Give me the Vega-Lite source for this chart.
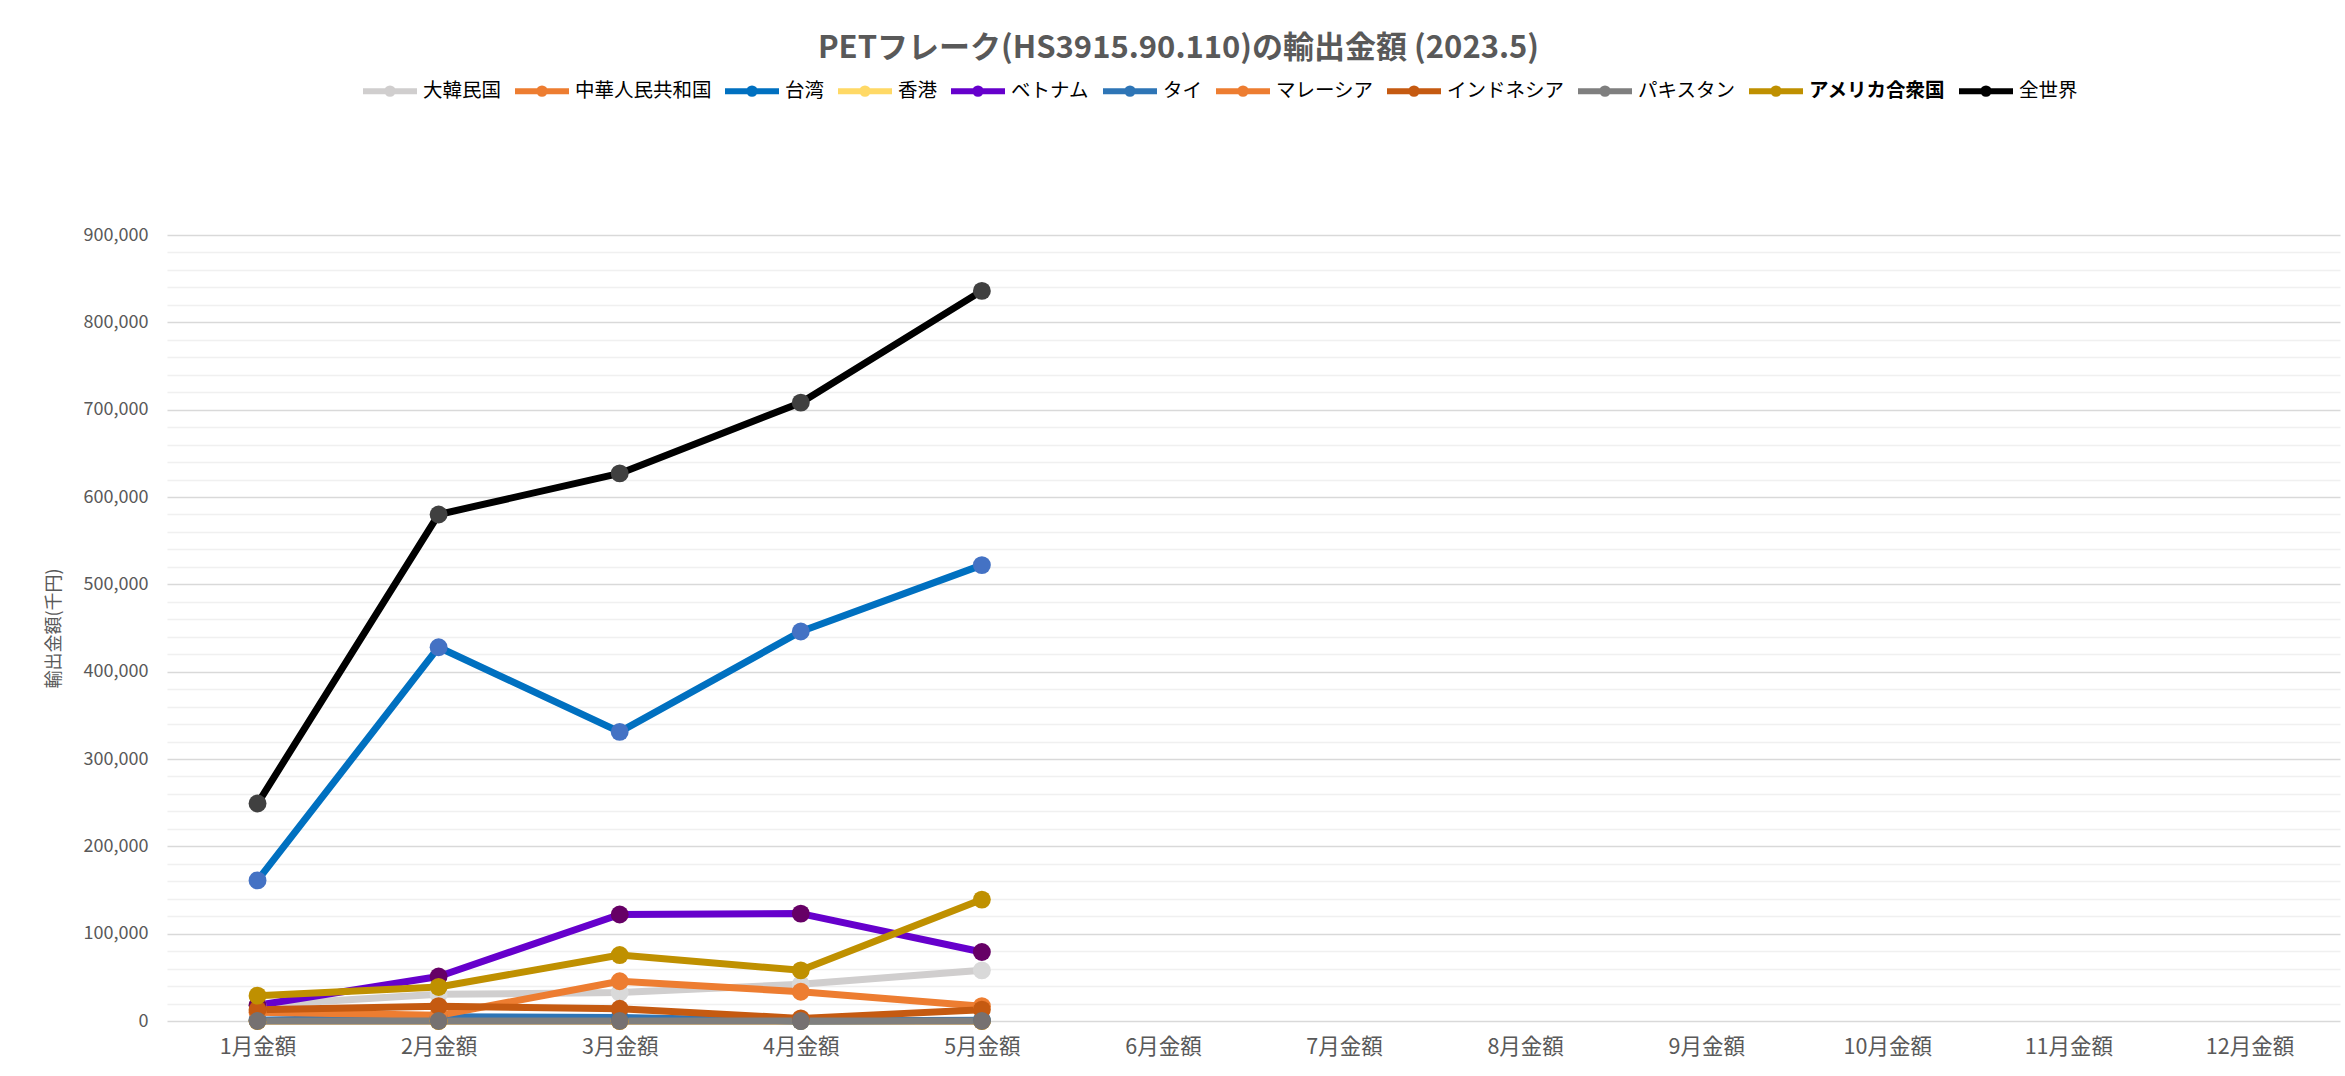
{
  "$schema": "https://vega.github.io/schema/vega-lite/v6.json",
  "width": 2173,
  "height": 786,
  "autosize": {"type": "none"},
  "padding": {"left": 167, "top": 235, "right": 5, "bottom": 55},
  "background": "white",
  "title": {
    "text": "PETフレーク(HS3915.90.110)の輸出金額 (2023.5)",
    "font": "Noto Sans CJK JP",
    "fontSize": 31,
    "fontWeight": "bold",
    "color": "#595959",
    "anchor": "middle",
    "dx": -75,
    "offset": -4
  },
  "config": {
    "view": {"stroke": null},
    "font": "Noto Sans CJK JP"
  },
  "data": {
    "values": [
      {"series": "大韓民国", "month": "1月金額", "value": 18000},
      {"series": "大韓民国", "month": "2月金額", "value": 30500},
      {"series": "大韓民国", "month": "3月金額", "value": 32500},
      {"series": "大韓民国", "month": "4月金額", "value": 42000},
      {"series": "大韓民国", "month": "5月金額", "value": 58000},
      {"series": "中華人民共和国", "month": "1月金額", "value": 0},
      {"series": "中華人民共和国", "month": "2月金額", "value": 0},
      {"series": "中華人民共和国", "month": "3月金額", "value": 0},
      {"series": "中華人民共和国", "month": "4月金額", "value": 0},
      {"series": "中華人民共和国", "month": "5月金額", "value": 0},
      {"series": "台湾", "month": "1月金額", "value": 161000},
      {"series": "台湾", "month": "2月金額", "value": 428000},
      {"series": "台湾", "month": "3月金額", "value": 331000},
      {"series": "台湾", "month": "4月金額", "value": 446000},
      {"series": "台湾", "month": "5月金額", "value": 522000},
      {"series": "香港", "month": "1月金額", "value": 0},
      {"series": "香港", "month": "2月金額", "value": 0},
      {"series": "香港", "month": "3月金額", "value": 0},
      {"series": "香港", "month": "4月金額", "value": 0},
      {"series": "香港", "month": "5月金額", "value": 0},
      {"series": "ベトナム", "month": "1月金額", "value": 18000},
      {"series": "ベトナム", "month": "2月金額", "value": 51000},
      {"series": "ベトナム", "month": "3月金額", "value": 122000},
      {"series": "ベトナム", "month": "4月金額", "value": 123000},
      {"series": "ベトナム", "month": "5月金額", "value": 79000},
      {"series": "タイ", "month": "1月金額", "value": 1000},
      {"series": "タイ", "month": "2月金額", "value": 5000},
      {"series": "タイ", "month": "3月金額", "value": 4000},
      {"series": "タイ", "month": "4月金額", "value": 0},
      {"series": "タイ", "month": "5月金額", "value": 1000},
      {"series": "マレーシア", "month": "1月金額", "value": 10000},
      {"series": "マレーシア", "month": "2月金額", "value": 6500},
      {"series": "マレーシア", "month": "3月金額", "value": 45500},
      {"series": "マレーシア", "month": "4月金額", "value": 33500},
      {"series": "マレーシア", "month": "5月金額", "value": 17000},
      {"series": "インドネシア", "month": "1月金額", "value": 13000},
      {"series": "インドネシア", "month": "2月金額", "value": 17000},
      {"series": "インドネシア", "month": "3月金額", "value": 14000},
      {"series": "インドネシア", "month": "4月金額", "value": 3000},
      {"series": "インドネシア", "month": "5月金額", "value": 13000},
      {"series": "パキスタン", "month": "1月金額", "value": 0},
      {"series": "パキスタン", "month": "2月金額", "value": 0},
      {"series": "パキスタン", "month": "3月金額", "value": 0},
      {"series": "パキスタン", "month": "4月金額", "value": 0},
      {"series": "パキスタン", "month": "5月金額", "value": 0},
      {"series": "アメリカ合衆国", "month": "1月金額", "value": 29000},
      {"series": "アメリカ合衆国", "month": "2月金額", "value": 39000},
      {"series": "アメリカ合衆国", "month": "3月金額", "value": 75500},
      {"series": "アメリカ合衆国", "month": "4月金額", "value": 58000},
      {"series": "アメリカ合衆国", "month": "5月金額", "value": 139000},
      {"series": "全世界", "month": "1月金額", "value": 249000},
      {"series": "全世界", "month": "2月金額", "value": 580000},
      {"series": "全世界", "month": "3月金額", "value": 627000},
      {"series": "全世界", "month": "4月金額", "value": 708000},
      {"series": "全世界", "month": "5月金額", "value": 836000}
    ]
  },
  "encoding": {
    "x": {
      "field": "month",
      "type": "ordinal",
      "scale": {
        "type": "point",
        "padding": 0.5,
        "domain": ["1月金額", "2月金額", "3月金額", "4月金額", "5月金額", "6月金額", "7月金額", "8月金額", "9月金額", "10月金額", "11月金額", "12月金額"]
      },
      "axis": {
        "title": null,
        "labelAngle": 0,
        "domain": false,
        "ticks": false,
        "grid": false,
        "labelPadding": 15,
        "labelFontSize": 21.5,
        "labelColor": "#595959",
        "labelFont": "Noto Sans CJK JP"
      }
    },
    "y": {
      "field": "value",
      "type": "quantitative",
      "scale": {"domain": [0, 900000], "nice": false},
      "axis": {
        "title": "輸出金額(千円)",
        "titleFontSize": 18,
        "titleFontWeight": "normal",
        "titleColor": "#595959",
        "titlePadding": 20,
        "values": [0, 20000, 40000, 60000, 80000, 100000, 120000, 140000, 160000, 180000, 200000, 220000, 240000, 260000, 280000, 300000, 320000, 340000, 360000, 380000, 400000, 420000, 440000, 460000, 480000, 500000, 520000, 540000, 560000, 580000, 600000, 620000, 640000, 660000, 680000, 700000, 720000, 740000, 760000, 780000, 800000, 820000, 840000, 860000, 880000, 900000],
        "labelExpr": "datum.value % 100000 === 0 ? format(datum.value, ',') : ''",
        "gridColor": {"condition": {"test": "datum.value % 100000 === 0", "value": "#D9D9D9"}, "value": "#F0F0F0"},
        "gridWidth": 1.5,
        "domain": false,
        "ticks": false,
        "labelPadding": 19,
        "labelFontSize": 18,
        "labelColor": "#595959",
        "labelFont": "Noto Sans CJK JP"
      }
    }
  },
  "layer": [
    {
      "mark": {"type": "line", "strokeWidth": 7, "strokeJoin": "round", "strokeCap": "round"},
      "encoding": {
        "color": {
          "field": "series",
          "type": "nominal",
          "scale": {
            "domain": ["大韓民国", "中華人民共和国", "台湾", "香港", "ベトナム", "タイ", "マレーシア", "インドネシア", "パキスタン", "アメリカ合衆国", "全世界"],
            "range": ["#D0CECE", "#ED7D31", "#0070C0", "#FFD966", "#6600CC", "#2E75B6", "#ED7D31", "#C55A11", "#7F7F7F", "#BF9000", "#000000"]
          },
          "legend": {
            "orient": "none",
            "legendX": 193,
            "legendY": -174,
            "direction": "horizontal",
            "columns": 11,
            "columnPadding": 1,
            "title": null,
            "symbolType": "M-1,0L1,0M0.1,0A0.1,0.1,0,1,1,-0.1,0A0.1,0.1,0,1,1,0.1,0Z",
            "symbolSize": 2916,
            "symbolStrokeWidth": 6,
            "labelFontSize": 19.5,
            "labelFont": "Noto Sans CJK JP",
            "labelFontWeight": {"expr": "datum.label === 'アメリカ合衆国' ? 'bold' : 'normal'"},
            "labelColor": "#000000",
            "labelOffset": 3
          }
        }
      }
    },
    {
      "mark": {"type": "point", "filled": true, "size": 320, "strokeWidth": 0, "opacity": 1},
      "encoding": {
        "fill": {
          "field": "series",
          "type": "nominal",
          "scale": {
            "domain": ["大韓民国", "中華人民共和国", "台湾", "香港", "ベトナム", "タイ", "マレーシア", "インドネシア", "パキスタン", "アメリカ合衆国", "全世界"],
            "range": ["#D9D9D9", "#ED7D31", "#4472C4", "#FFC000", "#660066", "#2E75B6", "#ED7D31", "#C55A11", "#767171", "#BF9000", "#404040"]
          },
          "legend": null
        }
      }
    }
  ]
}
